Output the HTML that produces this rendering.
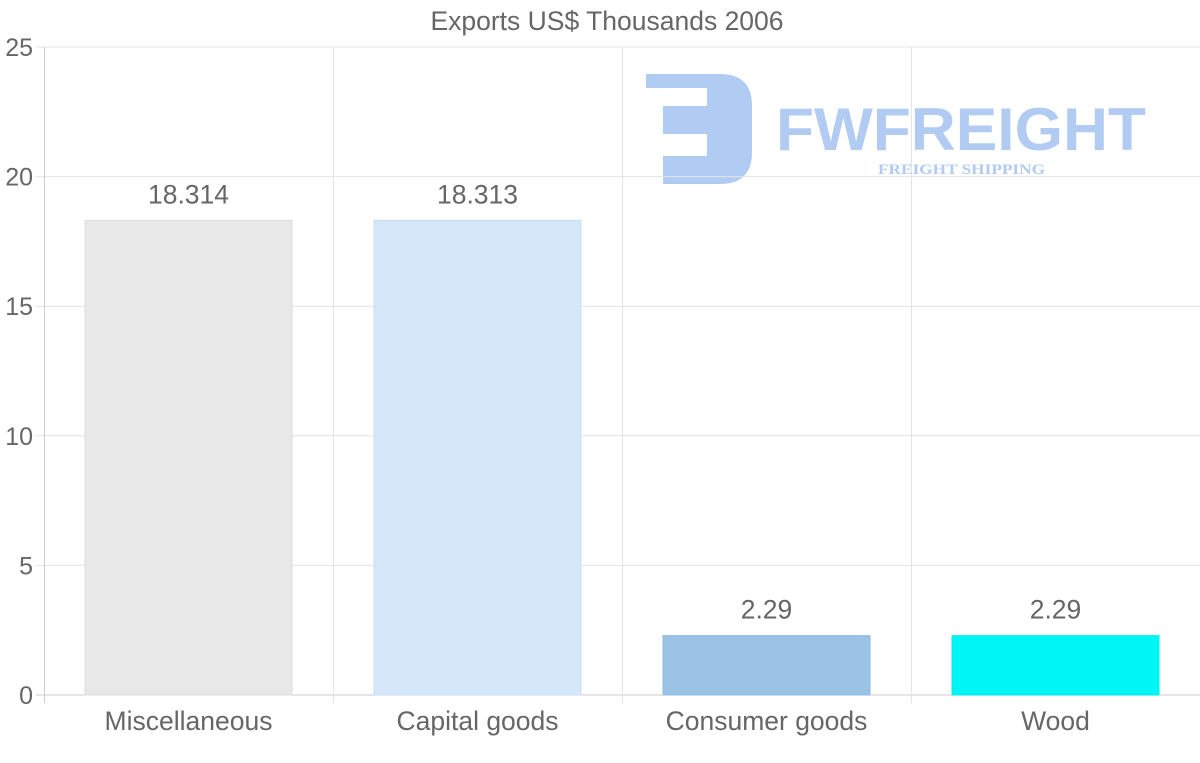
<!DOCTYPE html>
<html><head><meta charset="utf-8"><style>
body{margin:0;background:#fff;}
svg{display:block;font-family:"Liberation Sans",sans-serif;}
</style></head><body>
<svg id="chart" width="1200" height="763" viewBox="0 0 1200 763">
<g id="logo" fill="#a9c6f2" opacity="0.9">
<path d="M646 74 H720 Q752 74 752 106 V152 Q752 184 720 184 H663 V156 H707 V134 H663 V106 H707 V88 H646 Z"/>
<text x="776" y="150" font-size="60" font-weight="bold" textLength="370" lengthAdjust="spacingAndGlyphs" fill="#a9c6f2">FWFREIGHT</text>
<text x="878" y="174" font-family="Liberation Serif,serif" font-size="15" font-weight="bold" textLength="167" lengthAdjust="spacingAndGlyphs" fill="#a9c6f2">FREIGHT SHIPPING</text>
</g>
<g id="grid"></g><g id="bars"></g><g id="labels"></g>
<text x="607" y="30" text-anchor="middle" font-size="26.5" fill="#666">Exports US$ Thousands 2006</text>
</svg>
<script>
const categories=["Miscellaneous","Capital goods","Consumer goods","Wood"];
const values=[18.314,18.313,2.29,2.29];
const valueLabels=["18.314","18.313","2.29","2.29"];
const yTicks=[0,5,10,15,20,25];
const colors=["#e8e8e8","#d6e7f9","#9ac3e6","#00f6f6"];
const borders=["#dcdcdc","#c8dcf2","#8fb9de","#00ecec"];
const L=44,R=1200,T=47,B=695,yMax=25;
const y=v=>B-(v/yMax)*(B-T);
const bw=(R-L)/categories.length;
const x=i=>L+i*bw;
const ns="http://www.w3.org/2000/svg";
function mk(tag,attrs,parent,txt){const e=document.createElementNS(ns,tag);for(const k in attrs)e.setAttribute(k,attrs[k]);if(txt!==undefined)e.textContent=txt;document.getElementById(parent).appendChild(e);return e;}
yTicks.forEach(t=>{
  const l=mk("line",{x1:L-8,x2:R,y1:y(t),y2:y(t),stroke:t===0?"#ccc":"#e4e4e4","stroke-width":1},"grid");
  
  
  const tx=mk("text",{x:33,y:y(t)+9,"text-anchor":"end","font-size":25,fill:"#666"},"labels",String(t));
  
  
});
for(let i=0;i<=categories.length;i++){
  const l=mk("line",{x1:x(i)+0.5,x2:x(i)+0.5,y1:T,y2:B+8,stroke:i===0?"#ccc":"#e4e4e4"},"grid");
  
  
}
categories.forEach((c,i)=>{
  const bx=x(i)+41,w=bw-82;
  const r=mk("rect",{x:bx,y:y(values[i]),width:w,height:B-y(values[i]),fill:colors[i],stroke:borders[i],"stroke-width":1},"bars");
  
  
  const v=mk("text",{x:x(i)+bw/2,y:y(values[i])-17,"text-anchor":"middle","font-size":26.5,fill:"#666"},"labels",valueLabels[i]);
  
  
  const cl=mk("text",{x:x(i)+bw/2,y:730,"text-anchor":"middle","font-size":26.5,fill:"#666"},"labels",c);
  
  
});
</script>
</body></html>
